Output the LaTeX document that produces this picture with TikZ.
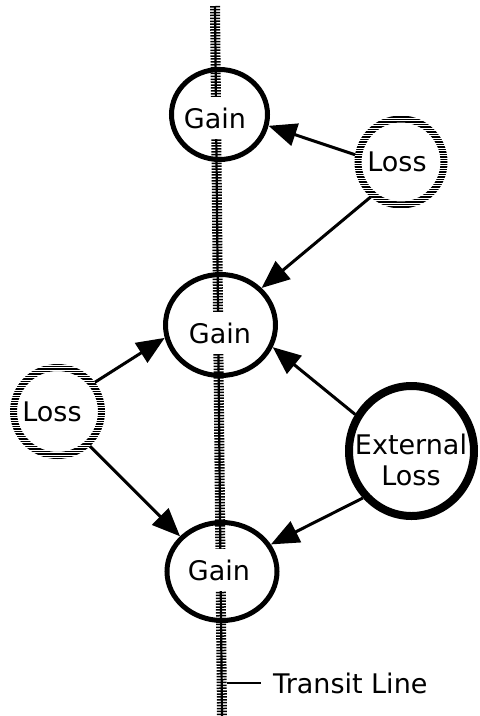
\documentclass[tikz,border=0pt]{standalone}
\usepackage{fontspec}
\setmainfont{DejaVu Sans}
\usetikzlibrary{arrows.meta,shapes.geometric}

% ring drawn as horizontal hatch strokes: centre x, centre y, outer radius, inner radius
\newcommand\hatchring[4]{%
  \begin{scope}[even odd rule]
    \clip (#1,#2) circle[radius=#3pt] (#1,#2) circle[radius=#4pt];
    \foreach \k in {-26,...,26}
      \draw[line width=1.5pt] ({#1-60},{#2+2.5*\k}) -- ++(120,0);
  \end{scope}}

\tikzset{
  gain/.style={ellipse, draw, line width=5pt, inner sep=0pt},
  lossnode/.style={circle, inner sep=0pt, outer sep=3.5pt},
  extnode/.style={ellipse, draw, line width=8pt, inner sep=0pt},
  lbl/.style={font=\fontsize{27}{31}\selectfont, inner sep=0pt, align=center},
  lblw/.style={lbl, fill=white, inner ysep=11pt, inner xsep=1pt},
  flow/.style={line width=3pt, -{Triangle[length=28pt,width=23pt]}},
  track/.style={line width=10pt, dash pattern=on 1.5pt off 1.4pt},
  trackcore/.style={line width=2.2pt}
}

\begin{document}
\begin{tikzpicture}[x=1pt,y=-1pt]
  \useasboundingbox[fill=white] (0,0) rectangle (480,716);

  % transit line
  \coordinate (ttop) at (215,6);
  \coordinate (tbot) at (222,716);
  \draw[track] (ttop) -- (tbot);
  \draw[trackcore] (ttop) -- (tbot);

  % gain nodes on the transit line
  \node[gain, minimum width=96pt, minimum height=90pt] (g1) at (219.5,114.5) {};
  \node[gain, minimum width=110pt, minimum height=101pt] (g2) at (220.5,325) {};
  \node[gain, minimum width=110pt, minimum height=98pt] (g3) at (222,571.5) {};
  \node[lblw] (g1t) at (215,118) {Gain};
  \node[lblw] (g2t) at (220,333) {Gain};
  \node[lblw] (g3t) at (219,570) {Gain};

  % loss nodes (hatched rings)
  \node[lossnode, minimum size=86pt] (lt) at (401,162) {};
  \hatchring{401}{162}{46.5}{39.5}
  \node[lbl] (ltt) at (397,162) {Loss};

  \node[lossnode, minimum size=88pt] (ll) at (57.5,411.5) {};
  \hatchring{57.5}{411.5}{47.5}{40.5}
  \node[lbl] (llt) at (52,412) {Loss};

  % external loss
  \node[extnode, minimum width=125pt, minimum height=130pt] (ext) at (411.5,451) {};
  \node[lbl] (extt) at (411,460) {External\\Loss};

  % flows
  \draw[flow] (lt.171) -- (g1.-13);
  \draw[flow] (lt.229) -- (g2.42);
  \draw[flow] (ll.38) -- (g2.193);
  \draw[flow] (ll.-47.5) -- (g3.140);
  \draw[flow] (ext.147.5) -- (g2.-23);
  \draw[flow] (ext.224) -- (g3.29.7);

  % transit line label
  \coordinate (tick) at (227,683);
  \node[lbl, anchor=west] (tlabel) at (273,683) {Transit Line};
  \draw[line width=2.8pt, shorten >=12pt] (tick) -- (tlabel.west);
\end{tikzpicture}
\end{document}
